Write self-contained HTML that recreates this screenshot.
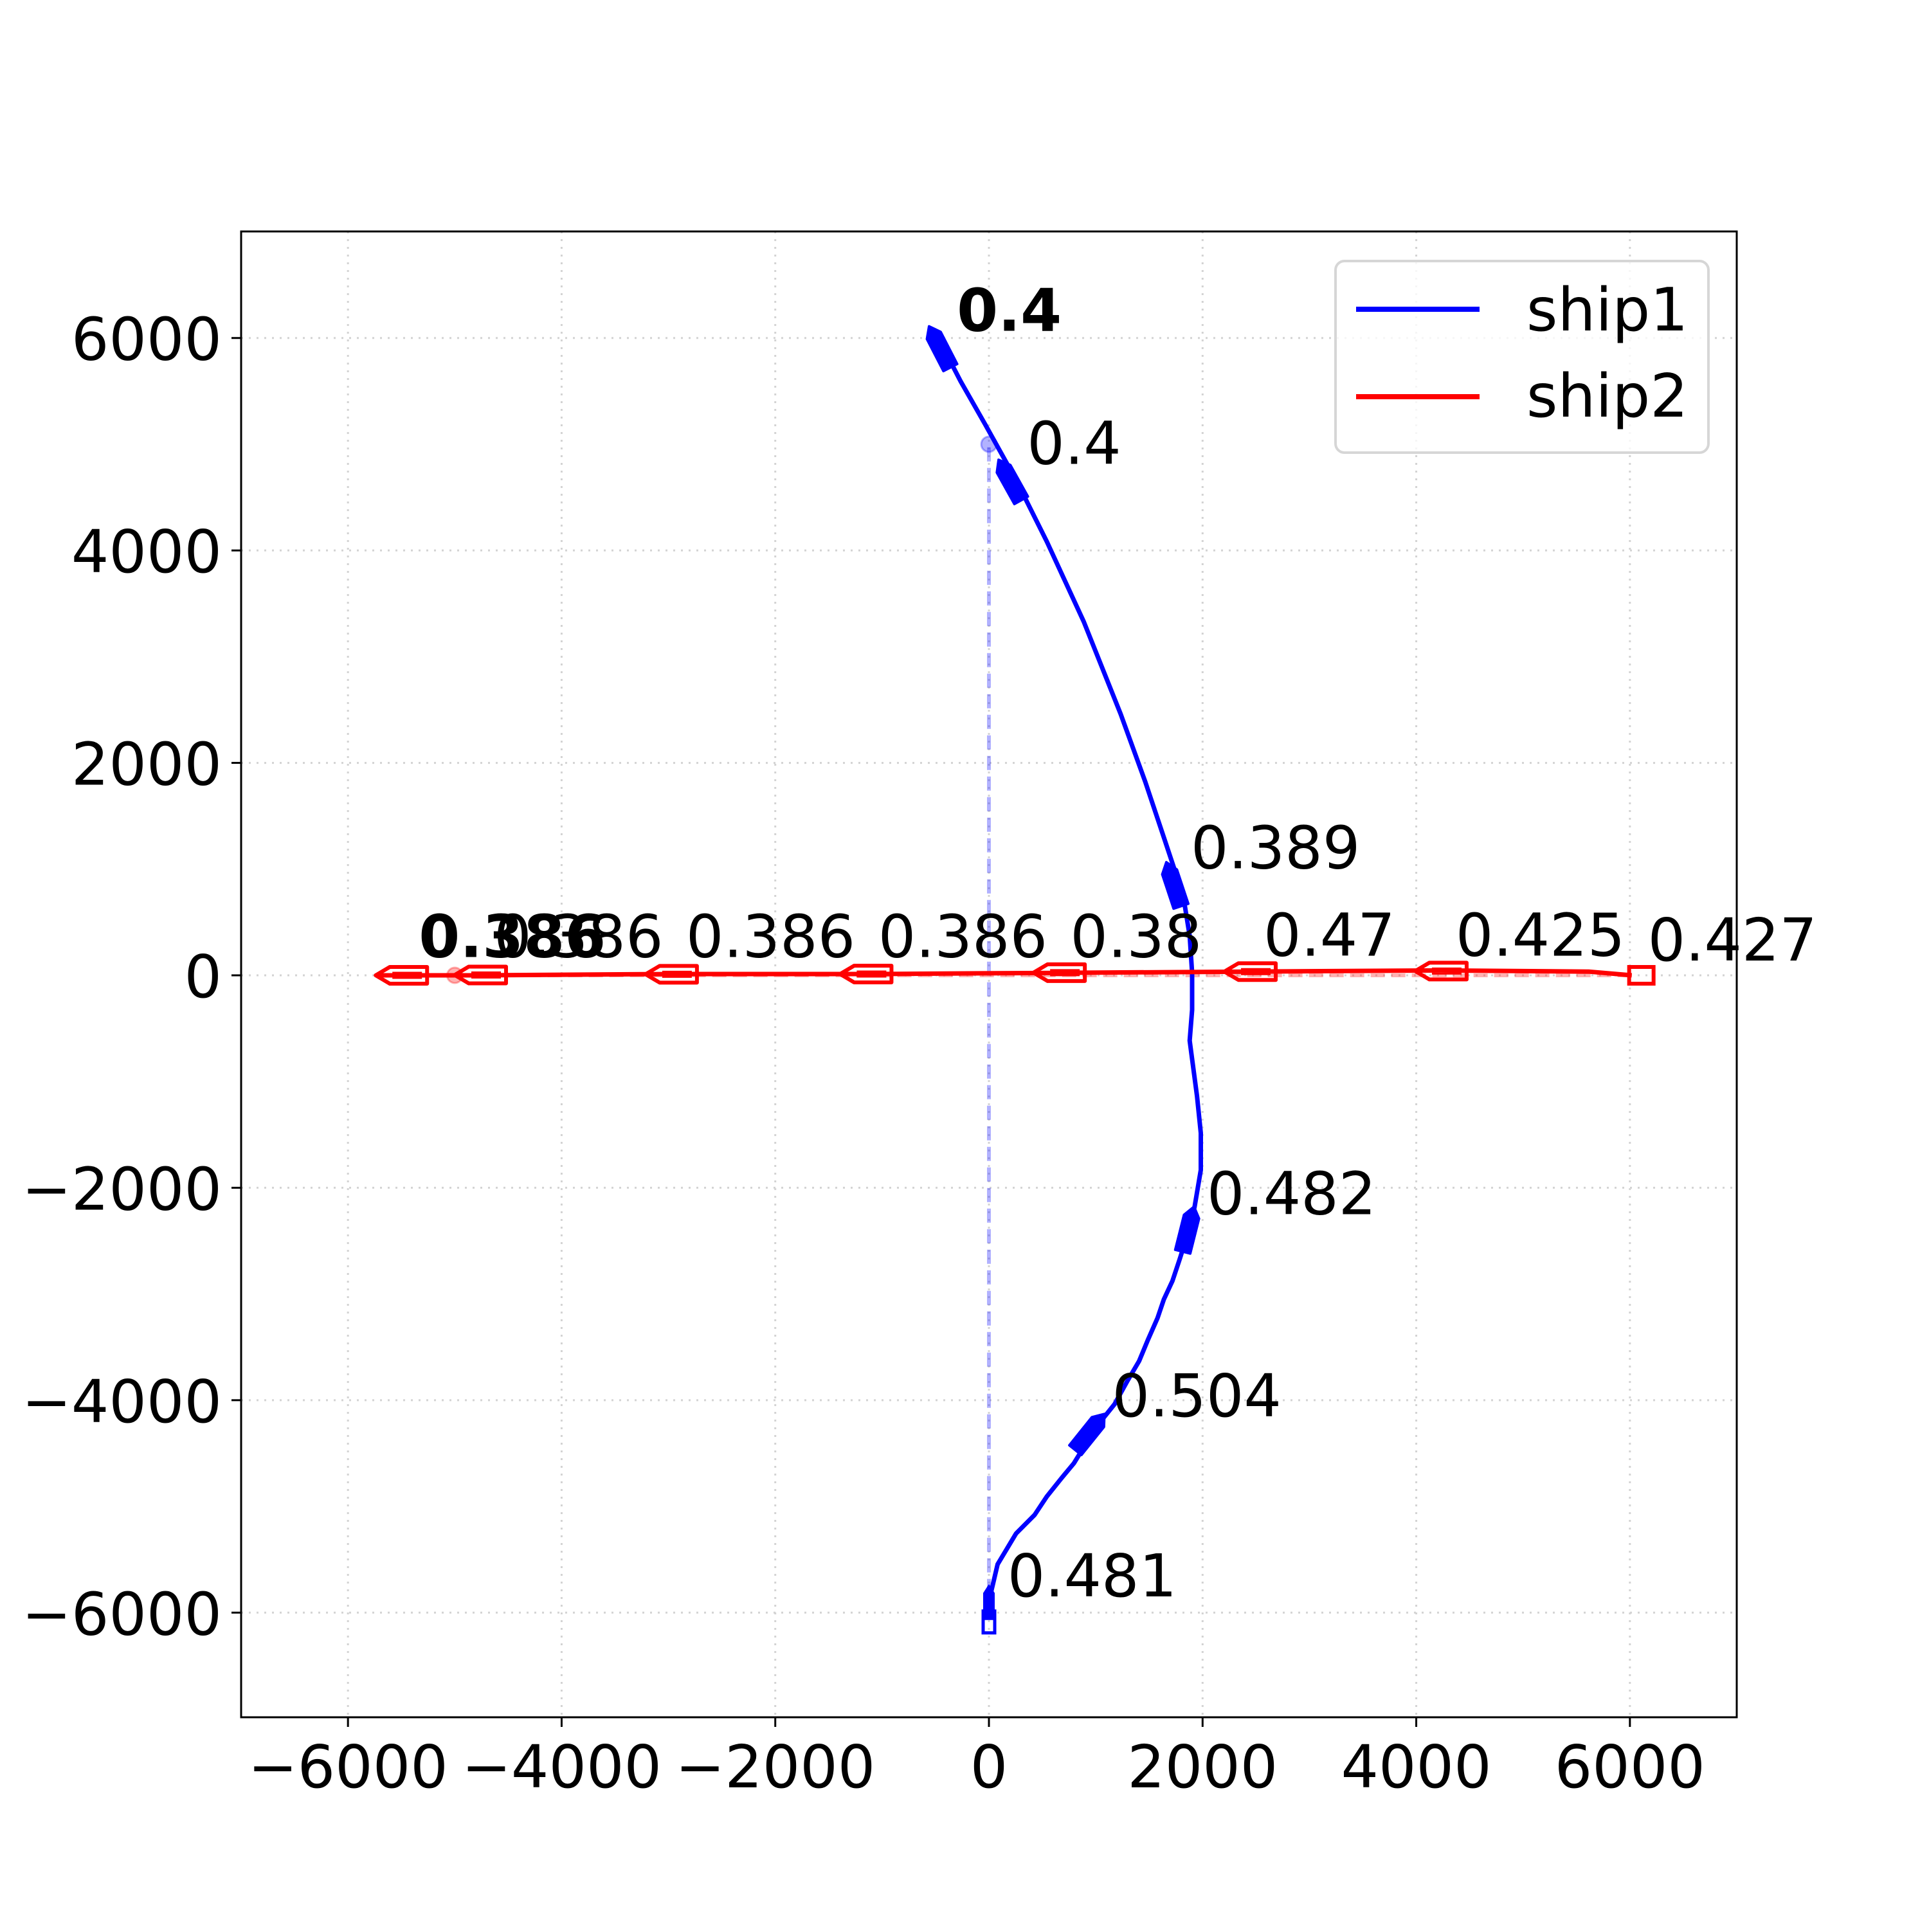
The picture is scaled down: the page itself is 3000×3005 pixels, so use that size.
<!DOCTYPE html>
<html><head><meta charset="utf-8"><style>
html,body{margin:0;padding:0;background:#fff;}
svg text{font-family:"DejaVu Sans","Liberation Sans",sans-serif;}
</style></head><body>
<svg id="chart" xmlns="http://www.w3.org/2000/svg" width="3000" height="3000" viewBox="0 0 3000 3000">
<rect x="0" y="0" width="3000" height="3000" fill="#fff"/>
<g id="grid"></g>
<g id="plot"></g>
<rect x="375" y="360" width="2326" height="2311" fill="none" stroke="#000" stroke-width="3"/>
<g id="ticks"></g>
<g>
<rect x="2077" y="406" width="580" height="298" rx="14" fill="#fff" fill-opacity="0.8" stroke="#d6d6d6" stroke-width="4"/>
<line x1="2109" y1="481" x2="2301" y2="481" stroke="#0000ff" stroke-width="8"/>
<text x="2374" y="514" font-size="93">ship1</text>
<line x1="2109" y1="617" x2="2301" y2="617" stroke="#ff0000" stroke-width="8"/>
<text x="2374" y="648" font-size="93">ship2</text>
</g>
</svg>
<script>
const xTicks = [-6000,-4000,-2000,0,2000,4000,6000];
const yTicks = [-6000,-4000,-2000,0,2000,4000,6000];
const ship1X = [0,0,81,254,427,542,680,795,888,1037,1176,1291,1406,1487,1579,1637,1718,1787,1867,1925,1983,1983,1948,1902,1879,1902,1902,1879,1833,1752,1637,1464,1233,888,542,254,-35,-265,-473];
const ship1Y = [-6009,-5893,-5545,-5255,-5081,-4907,-4733,-4594,-4443,-4211,-4037,-3828,-3631,-3434,-3225,-3051,-2877,-2668,-2413,-2181,-1833,-1485,-1137,-789,-615,-325,23,371,661,951,1299,1821,2459,3329,4084,4664,5186,5592,5998];
const ship2X = [6017,5614,4231,2444,657,-1153,-2974,-4761,-5718];
const ship2Y = [0,35,46,35,23,12,12,0,0];
const ship1MarkX = [945,1867,1729,196,-461];
const ship1MarkY = [-4300,-2390,858,4663,5916];
const ship2MarkX = [4231,2444,657,-1153,-2974,-4761,-5500];
const ship2MarkY = [40,35,25,12,10,3,0];
const ship1LabelText = ["0.481","0.504","0.482","0.389","0.4","0.4"];
const ship1LabelX = [173,1153,2040,1890,357,-300];
const ship1LabelY = [-5846,-4153,-2250,1009,4814,6067];
const ship1LabelBold = [0,0,0,0,0,1];
const ship2LabelText = ["0.427","0.425","0.47","0.38","0.386","0.386","0.386","0.386"];
const ship2LabelX = [6167,4369,2570,761,-1037,-2836,-4634,-5337];
const ship2LabelY = [139,186,186,174,174,174,174,174];
const ship2LabelBold = [0,0,0,0,0,0,0,1];

const NS="http://www.w3.org/2000/svg";
const X=v=>1538+v*0.16614;
const Y=v=>1517-v*0.16521;
function mk(tag,attrs,parent){const e=document.createElementNS(NS,tag);for(const k in attrs)e.setAttribute(k,attrs[k]);parent.appendChild(e);return e;}
const grid=document.getElementById('grid'),plot=document.getElementById('plot'),ticks=document.getElementById('ticks');
const fmt=v=>v<0?'\u2212'+Math.abs(v):String(v);
xTicks.forEach(v=>{
  const g=mk('line',{x1:X(v),x2:X(v),y1:360,y2:2671,stroke:'#d3d3d3','stroke-width':3,'stroke-dasharray':'3,9'},grid);
  
  
  const t=mk('line',{x1:X(v),x2:X(v),y1:2671,y2:2686,stroke:'#000','stroke-width':3},ticks);
  
  
  const l=mk('text',{x:X(v),y:2780,'font-size':92,'text-anchor':'middle'},ticks);l.textContent=fmt(v);
  
  
});
yTicks.forEach(v=>{
  const g=mk('line',{x1:375,x2:2701,y1:Y(v),y2:Y(v),stroke:'#d3d3d3','stroke-width':3,'stroke-dasharray':'3,9'},grid);
  
  
  const t=mk('line',{x1:360,x2:375,y1:Y(v),y2:Y(v),stroke:'#000','stroke-width':3},ticks);
  
  
  const l=mk('text',{x:345,y:Y(v)+34,'font-size':92,'text-anchor':'end'},ticks);l.textContent=fmt(v);
  
  
});
// reference dashed lines
const d1=mk('line',{x1:X(0),y1:Y(-6009),x2:X(0),y2:Y(5000),stroke:'#0000ff','stroke-opacity':0.3,'stroke-width':6,'stroke-dasharray':'22,10'},plot);


const c1=mk('circle',{cx:X(0),cy:Y(5000),r:12,fill:'#0000ff','fill-opacity':0.3,stroke:'#0000ff','stroke-opacity':0.3,'stroke-width':3},plot);


const d2=mk('line',{x1:X(6017),y1:Y(0),x2:X(-5000),y2:Y(0),stroke:'#ff0000','stroke-opacity':0.3,'stroke-width':6,'stroke-dasharray':'22,10'},plot);


const c2=mk('circle',{cx:X(-5000),cy:Y(0),r:12,fill:'#ff0000','fill-opacity':0.3,stroke:'#ff0000','stroke-opacity':0.3,'stroke-width':3},plot);


// paths
function pathD(xs,ys){return xs.map((x,i)=>(i?'L':'M')+X(x).toFixed(1)+','+Y(ys[i]).toFixed(1)).join(' ');}
const p1=mk('path',{d:pathD(ship1X,ship1Y),fill:'none',stroke:'#0000ff','stroke-width':7,'stroke-linejoin':'round'},plot);


const p2=mk('path',{d:pathD(ship2X,ship2Y),fill:'none',stroke:'#ff0000','stroke-width':7,'stroke-linejoin':'round'},plot);


// headings
function heading(xs,ys,mx,my){
  let best=0,bd=1e18;
  for(let i=0;i<xs.length-1;i++){const d=(xs[i]-mx)**2+(ys[i]-my)**2;if(d<bd){bd=d;best=i;}}
  const i=Math.min(best,xs.length-2);
  const dx=X(xs[i+1])-X(xs[i]),dy=Y(ys[i+1])-Y(ys[i]);
  return Math.atan2(dy,dx)*180/Math.PI;
}
// ship1 start marker (outlined box)
const s1=mk('rect',{x:X(0)-9,y:Y(-6009)-4,width:18,height:34,fill:'none',stroke:'#0000ff','stroke-width':5},plot);


const s1b=mk('polygon',{points:'-28,-9 14,-9 28,0 14,9 -28,9',fill:'#0000ff',transform:`translate(${X(0)},${Y(-5900)}) rotate(-90)`},plot);


ship1MarkX.forEach((mx,i)=>{
  const a=heading(ship1X,ship1Y,mx,ship1MarkY[i]);
  const m=mk('polygon',{points:'-36,-12 20,-12 36,0 20,12 -36,12',fill:'#0000ff',stroke:'#0000ff','stroke-width':4,'stroke-linejoin':'round',transform:`translate(${X(mx)},${Y(ship1MarkY[i])}) rotate(${a})`},plot);
  
  
});
// ship2 start marker
const s2=mk('rect',{x:X(6017)-4,y:Y(0)-13,width:38,height:26,fill:'none',stroke:'#ff0000','stroke-width':6},plot);


ship2MarkX.forEach((mx,i)=>{
  const g=mk('g',{transform:`translate(${X(mx)},${Y(ship2MarkY[i])})`},plot);
  
  
  mk('polygon',{points:'-40,0 -18,-13 40,-13 40,13 -18,13',fill:'none',stroke:'#ff0000','stroke-width':6,'stroke-linejoin':'round'},g);
  mk('line',{x1:-14,y1:-4,x2:32,y2:-4,stroke:'#ff0000','stroke-width':3},g);
  mk('line',{x1:-14,y1:4,x2:32,y2:4,stroke:'#ff0000','stroke-width':3},g);
});
// labels
ship1LabelText.forEach((t,i)=>{
  const l=mk('text',{x:X(ship1LabelX[i]),y:Y(ship1LabelY[i]),'font-size':92,'font-weight':ship1LabelBold[i]?'bold':'normal'},plot);
  l.textContent=t;
  
  
});
ship2LabelText.forEach((t,i)=>{
  const l=mk('text',{x:X(ship2LabelX[i]),y:Y(ship2LabelY[i]),'font-size':92,'font-weight':ship2LabelBold[i]?'bold':'normal'},plot);
  l.textContent=t;
  
  
});
</script>
</body></html>
